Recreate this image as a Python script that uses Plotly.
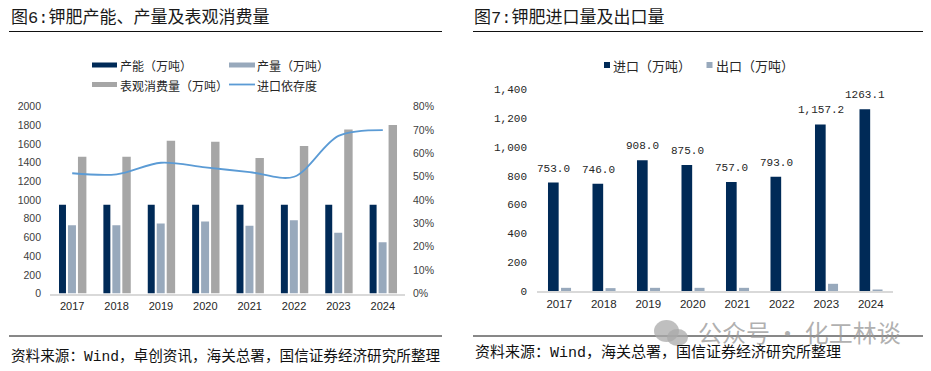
import plotly.graph_objects as go

W, H = 931, 371
years = ["2017", "2018", "2019", "2020", "2021", "2022", "2023", "2024"]
capacity = [950, 950, 950, 950, 950, 950, 950, 950]
production = [730, 730, 750, 770, 725, 785, 650, 550]
consumption = [1465, 1465, 1635, 1625, 1450, 1580, 1755, 1805]
dependence = [51.5, 51, 56, 54, 52, 50, 67.5, 70]
imports = [753.0, 746.0, 908.0, 875.0, 757.0, 793.0, 1157.2, 1263.1]
exports = [22, 20, 22, 22, 22, 0, 50, 5]
import_labels = ["753.0", "746.0", "908.0", "875.0", "757.0", "793.0", "1,157.2", "1263.1"]
left_ticks = [0, 200, 400, 600, 800, 1000, 1200, 1400, 1600, 1800, 2000]
pct_ticks = [0, 10, 20, 30, 40, 50, 60, 70, 80]
right_ticks = [0, 200, 400, 600, 800, 1000, 1200, 1400]
right_tick_labels = ["0", "200", "400", "600", "800", "1,000", "1,200", "1,400"]

NAVY, STEEL, GRAY, BLUE = "#002A57", "#98A9BC", "#A6A6A6", "#5B9BD5"
CJK = "Noto Sans CJK SC"
SANS = "Liberation Sans"
MONO = "Liberation Mono, Noto Sans CJK SC"
TXT = "#262626"


def px(x):
    return x / W


def py(y):
    return 1 - y / H


fig = go.Figure()
for name, vals, col, off, wid in [("产能（万吨）", capacity, NAVY, -0.297, 0.157), ("产量（万吨）", production, STEEL, -0.095, 0.18), ("表观消费量（万吨）", consumption, GRAY, 0.13, 0.19)]:
    fig.add_trace(go.Bar(x=years, y=vals, name=name, marker=dict(color=col, line_width=0), xaxis="x", yaxis="y", offset=off, width=wid))
fig.add_trace(go.Scatter(x=years, y=dependence, name="进口依存度", mode="lines", line=dict(color=BLUE, width=1.8, shape="spline", smoothing=0.9), xaxis="x", yaxis="y2"))
fig.add_trace(go.Bar(x=years, y=imports, name="进口（万吨）", marker=dict(color=NAVY, line_width=0), xaxis="x2", yaxis="y3", offset=-0.253, width=0.24))
fig.add_trace(go.Bar(x=years, y=exports, name="出口（万吨）", marker=dict(color=STEEL, line_width=0), xaxis="x2", yaxis="y3", offset=0.04, width=0.225))

shapes = []
for x0, x1 in [(9, 442), (473, 923)]:
    for y in (31.5, 336):
        shapes.append(dict(type="line", xref="paper", yref="paper", x0=px(x0), x1=px(x1), y0=py(y), y1=py(y), line=dict(color="#111111", width=1)))
for x0, x1, y, col, t in [(92, 117, 65, NAVY, 5), (229, 255, 65, STEEL, 5), (92, 117, 84.5, GRAY, 5), (229, 255, 84.5, BLUE, 1.8)]:
    shapes.append(dict(type="line", xref="paper", yref="paper", x0=px(x0), x1=px(x1), y0=py(y), y1=py(y), line=dict(color=col, width=t)))
for x0, col in [(604, NAVY), (706.5, STEEL)]:
    shapes.append(dict(type="rect", xref="paper", yref="paper", x0=px(x0), x1=px(x0 + 6), y0=py(62), y1=py(68), fillcolor=col, line_width=0))
for x0, x1, y0, y1 in [(654, 679, 320, 342), (667, 688, 329, 346)]:
    shapes.append(dict(type="circle", xref="paper", yref="paper", x0=px(x0), x1=px(x1), y0=py(y0), y1=py(y1), fillcolor="rgba(170,170,170,0.75)", line_width=0))

ann = []


def label(x, y, text, size, family=CJK, color=TXT, anchor="left"):
    ann.append(dict(xref="paper", yref="paper", x=px(x), y=py(y), text=text, showarrow=False, xanchor=anchor, yanchor="middle",
                    font=dict(family=family, size=size, color=color), borderpad=0))


label(10, 18, "图6:钾肥产能、产量及表观消费量", 17, family=MONO, color="#1a1a1a")
label(473, 18, "图7:钾肥进口量及出口量", 17, family=MONO, color="#1a1a1a")
label(119, 65, "产能（万吨）", 12)
label(256, 65, "产量（万吨）", 12)
label(119, 85, "表观消费量（万吨）", 12)
label(256, 85, "进口依存度", 12)
label(612, 65, "进口（万吨）", 13)
label(715, 65, "出口（万吨）", 13)
label(10, 356, "资料来源：Wind，卓创资讯，海关总署，国信证券经济研究所整理", 14.6, family=MONO, color="#111111")
label(474, 353, "资料来源：Wind，海关总署，国信证券经济研究所整理", 15, family=MONO, color="#111111")
label(697, 331, "公众号 · 化工林谈", 24, color="rgba(150,150,150,0.75)")

# On a category axis an annotation's x is the category's serial number.
for i, (val, lab) in enumerate(zip(imports, import_labels)):
    ann.append(dict(xref="x2", yref="y3", x=i, y=val, text=lab, showarrow=False, xanchor="center", yanchor="bottom",
                    xshift=-5.5, yshift=7, font=dict(family=MONO, size=11, color=TXT), borderpad=0))

tick = dict(family=SANS, size=10.5, color="#404040")
axline = dict(type="category", categoryorder="array", categoryarray=years, range=[-0.5, 7.5], showline=True, linecolor="#D9D9D9",
              linewidth=1.5, ticks="", showgrid=False, zeroline=False, automargin=False)
yax = dict(showgrid=False, zeroline=False, ticks="", automargin=False)
fig.update_layout(
    width=W, height=H, autosize=False, margin=dict(l=0, r=0, t=0, b=0), paper_bgcolor="white", plot_bgcolor="white",
    showlegend=False, barmode="overlay", shapes=shapes, annotations=ann,
    xaxis=dict(domain=[px(50), px(405)], anchor="y", tickfont=dict(family=SANS, size=11, color=TXT), ticklabelstandoff=2, **axline),
    yaxis=dict(domain=[py(293.5), py(106.7)], anchor="x", range=[0, 2000], tickvals=left_ticks, tickfont=tick, ticklabelstandoff=8, **yax),
    yaxis2=dict(domain=[py(293.5), py(106.7)], anchor="x", overlaying="y", side="right", range=[0, 80], tickvals=pct_ticks,
                ticktext=[f"{v}%" for v in pct_ticks], tickfont=tick, ticklabelstandoff=7, **yax),
    xaxis2=dict(domain=[px(537), px(893)], anchor="y3", tickfont=dict(family=SANS, size=11.5, color=TXT), ticklabelstandoff=1, **axline),
    yaxis3=dict(domain=[py(291), py(89.5)], anchor="x2", range=[0, 1400], tickvals=right_ticks, ticktext=right_tick_labels,
                tickfont=dict(family=MONO, size=11, color=TXT), ticklabelstandoff=9, **yax),
)
fig.write_html("out.html", config={"displayModeBar": False},
               post_script="document.body.style.margin='0';document.documentElement.style.overflow='hidden';")
